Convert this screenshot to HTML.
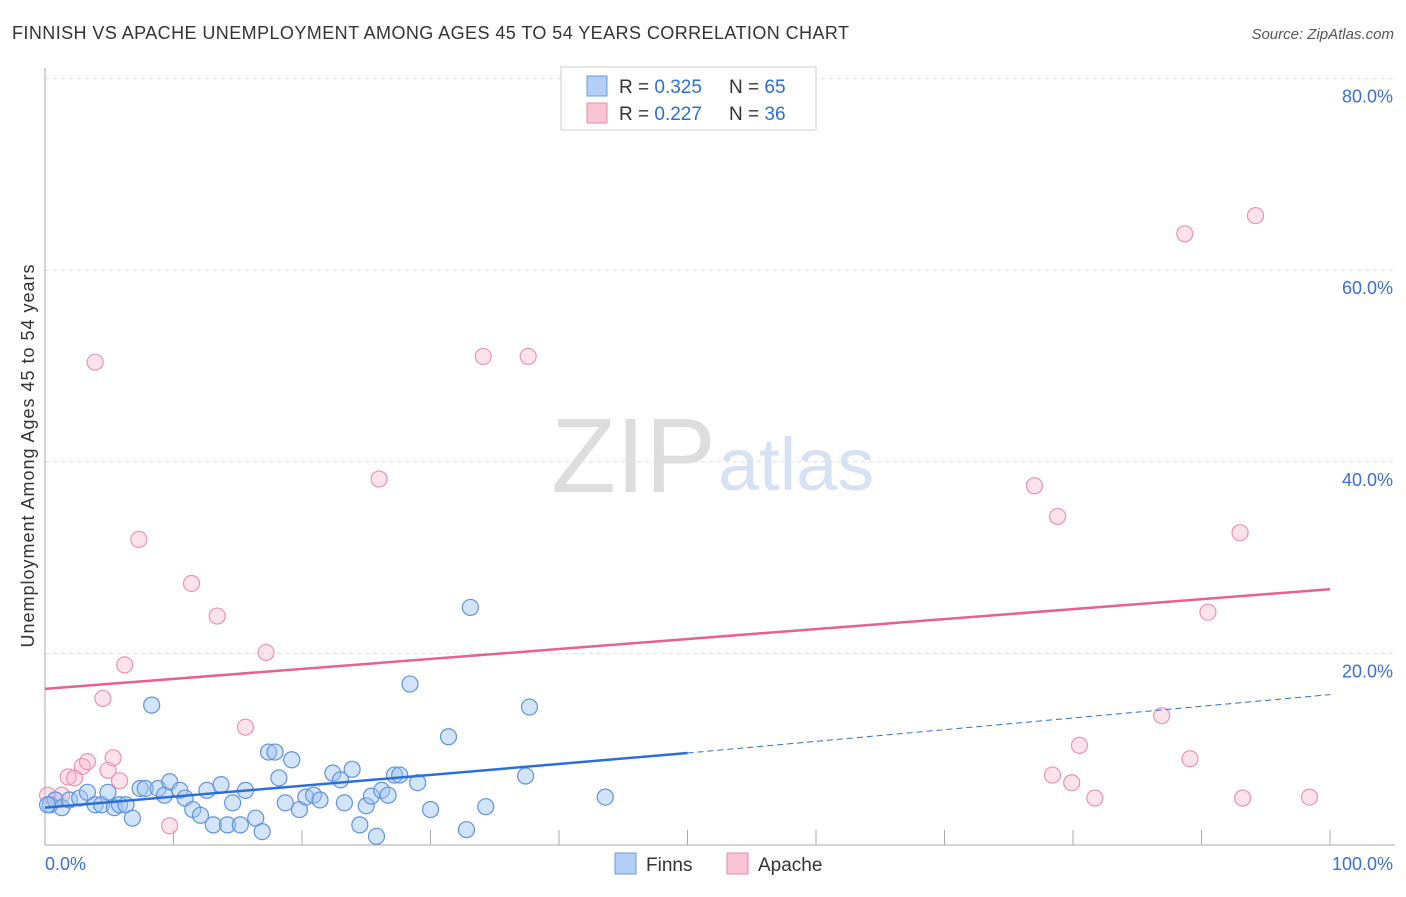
<!DOCTYPE html>
<html><head><meta charset="utf-8"><style>
body{margin:0;background:#fff;font-family:"Liberation Sans",sans-serif}
svg text{font-family:"Liberation Sans",sans-serif}
</style></head><body>
<svg id="c" width="1406" height="892" xmlns="http://www.w3.org/2000/svg">
<text x="12" y="39" font-size="18" fill="#333" textLength="837">FINNISH VS APACHE UNEMPLOYMENT AMONG AGES 45 TO 54 YEARS CORRELATION CHART</text>
<text x="1394" y="39" font-size="15" fill="#555" font-style="italic" text-anchor="end">Source: ZipAtlas.com</text>
<text x="34" y="456" font-size="18" fill="#333" text-anchor="middle" textLength="383" transform="rotate(-90 34 456)">Unemployment Among Ages 45 to 54 years</text>
<text x="716" y="492" font-size="106" fill="#ddd" text-anchor="end" font-family="Liberation Serif">ZIP</text>
<text x="718" y="490" font-size="74" fill="#d6e2f4">atlas</text>
<g id="grid"></g><g id="axes"></g><g id="marks"></g>
<g>
<rect x="561" y="67" width="255" height="63" fill="#fff" stroke="#ccc"/>
<rect x="587" y="76" width="20" height="20" fill="#b3cff5" stroke="#6a9be0"/>
<rect x="587" y="103" width="20" height="20" fill="#f9c5d5" stroke="#e88aa8"/>
<text x="619" y="93" font-size="19" fill="#333">R = <tspan fill="#2a6fd6">0.325</tspan></text>
<text x="729" y="93" font-size="19" fill="#333">N = <tspan fill="#2a6fd6">65</tspan></text>
<text x="619" y="120" font-size="19" fill="#333">R = <tspan fill="#2a6fd6">0.227</tspan></text>
<text x="729" y="120" font-size="19" fill="#333">N = <tspan fill="#2a6fd6">36</tspan></text>
</g>
<g>
<rect x="615" y="853" width="21" height="21" fill="#b3cff5" stroke="#6a9be0"/>
<text x="646" y="871" font-size="19" fill="#333">Finns</text>
<rect x="727" y="853" width="21" height="21" fill="#f9c5d5" stroke="#e88aa8"/>
<text x="758" y="871" font-size="19" fill="#333">Apache</text>
</g>
</svg>
<script>
const yTicks=[20,40,60,80];
const yTickLabels=["20.0%","40.0%","60.0%","80.0%"];
const xTicks=[0,10,20,30,40,50,60,70,80,90,100];
const finnsX=[0.4,0.8,1.3,1.9,2.7,3.3,3.9,4.4,4.9,5.4,5.8,6.3,6.8,7.4,7.8,8.3,8.8,9.3,9.7,10.5,10.9,11.5,12.1,12.6,13.1,13.7,14.2,14.6,15.2,15.6,16.4,16.9,17.4,17.9,18.2,18.7,19.2,19.8,20.3,20.9,21.4,22.4,23.0,23.3,23.9,24.5,25.0,25.4,25.8,26.2,26.7,27.2,27.6,28.4,29.0,30.0,31.4,32.8,33.1,34.3,37.4,37.7,43.6,0.2];
const finnsY=[4.2,4.7,3.9,4.7,4.9,5.5,4.2,4.2,5.5,3.9,4.2,4.2,2.8,5.9,5.9,14.6,5.9,5.2,6.6,5.7,4.9,3.7,3.1,5.7,2.1,6.3,2.1,4.4,2.1,5.7,2.8,1.4,9.7,9.7,7.0,4.4,8.9,3.7,5.0,5.2,4.7,7.5,6.8,4.4,7.9,2.1,4.1,5.1,0.9,5.7,5.2,7.3,7.3,16.8,6.5,3.7,11.3,1.6,24.8,4.0,7.2,14.4,5.0,4.2];
const apacheX=[0.2,0.8,1.3,1.8,2.3,2.9,3.3,3.9,4.5,4.9,5.3,5.8,6.2,7.3,9.7,11.4,13.4,15.6,17.2,26.0,34.1,37.6,77.0,78.8,78.4,79.9,80.5,81.7,86.9,88.7,89.1,90.5,93.0,93.2,94.2,98.4];
const apacheY=[5.2,4.7,5.2,7.1,7.0,8.2,8.7,50.4,15.3,7.8,9.1,6.7,18.8,31.9,2.0,27.3,23.9,12.3,20.1,38.2,51.0,51.0,37.5,34.3,7.3,6.5,10.4,4.9,13.5,63.8,9.0,24.3,32.6,4.9,65.7,5.0];
const finnsTrend=[3.9,9.6,15.7]; // at x=0, 50, 100
const apacheTrend=[16.3,26.7]; // at x=0, 100
const NS="http://www.w3.org/2000/svg";
const X=v=>45+v*12.85, Y=v=>845-v*9.58;
function mk(p,t,a){const e=document.createElementNS(NS,t);for(const k in a)e.setAttribute(k,a[k]);p.appendChild(e);return e;}
const grid=document.getElementById('grid'),axes=document.getElementById('axes'),marks=document.getElementById('marks');
yTicks.forEach((v,i)=>{
 const l=mk(grid,'line',{x1:45,x2:1395,y1:Y(v),y2:Y(v),stroke:'#ddd','stroke-dasharray':'4,4'});
 
 
 const t=mk(axes,'text',{x:1393,y:Y(v)+24,'font-size':18,fill:'#3b6fd4','text-anchor':'end'});t.textContent=yTickLabels[i];
 
 
});
mk(axes,'line',{x1:45,x2:45,y1:68,y2:845,stroke:'#aaa'});
mk(axes,'line',{x1:45,x2:1395,y1:845,y2:845,stroke:'#aaa'});
xTicks.forEach(v=>{const l=mk(axes,'line',{x1:X(v),x2:X(v),y1:830,y2:845,stroke:'#aaa'});
 
 });
let t=mk(axes,'text',{x:45,y:870,'font-size':18,fill:'#3b6fd4'});t.textContent='0.0%';


t=mk(axes,'text',{x:1393,y:870,'font-size':18,fill:'#3b6fd4','text-anchor':'end'});t.textContent='100.0%';


apacheX.forEach((x,i)=>{const c=mk(marks,'circle',{cx:X(x),cy:Y(apacheY[i]),r:8,fill:'rgba(245,175,198,0.35)',stroke:'#eb94b0','stroke-width':1.2});
 
 });
finnsX.forEach((x,i)=>{const c=mk(marks,'circle',{cx:X(x),cy:Y(finnsY[i]),r:8,fill:'rgba(160,195,240,0.45)',stroke:'#5f93de','stroke-width':1.2});
 
 });
let l=mk(marks,'line',{x1:X(0),y1:Y(apacheTrend[0]),x2:X(100),y2:Y(apacheTrend[1]),stroke:'#e8608f','stroke-width':2.5});


l=mk(marks,'line',{x1:X(0),y1:Y(finnsTrend[0]),x2:X(50),y2:Y(finnsTrend[1]),stroke:'#2a6fd6','stroke-width':2.5});


l=mk(marks,'line',{x1:X(50),y1:Y(finnsTrend[1]),x2:X(100),y2:Y(finnsTrend[2]),stroke:'#2a6fd6','stroke-width':1,'stroke-dasharray':'6,4'});


</script>
</body></html>
